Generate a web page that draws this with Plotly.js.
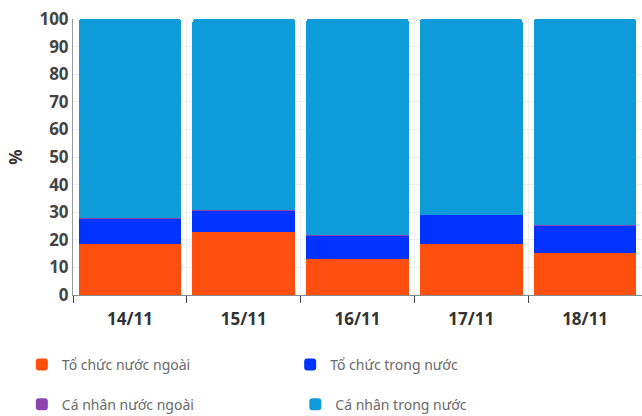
<!DOCTYPE html>
<html><head><meta charset="utf-8">
<script src="https://cdn.plot.ly/plotly-3.0.1.min.js"></script>
<style>body{margin:0}</style>
</head><body>
<div id="chart" style="width:642px;height:416px"></div>
<script>
const categories = ["14/11","15/11","16/11","17/11","18/11"];
const toChucNuocNgoai = [18.6, 22.7, 13.0, 18.6, 15.2];
const toChucTrongNuoc = [9.2, 7.8, 8.6, 10.4, 10.0];
const caNhanNuocNgoai = [0.2, 0.2, 0.1, 0.1, 0.1];
const caNhanTrongNuoc = [72.0, 69.3, 78.3, 70.9, 74.7];

const seriesNames = ["Tổ chức nước ngoài","Tổ chức trong nước","Cá nhân nước ngoài","Cá nhân trong nước"];
const colors = ["#FF4F0F","#0033FF","#8E44AD","#0E9BDA"];
const values = [toChucNuocNgoai, toChucTrongNuoc, caNhanNuocNgoai, caNhanTrongNuoc];
const legendIds = ["legend","legend2","legend3","legend4"];

const traces = values.map((v,i)=>({
  type:"bar", x:categories, y:v, name:seriesNames[i],
  marker:{color:colors[i], cornerradius:3, line:{width:0}},
  legend:legendIds[i], hoverinfo:"y+name"
}));

const legendFont = {family:"Noto Sans, sans-serif", size:14, color:"#6a6a6a"};
function leg(x,y){
  return {orientation:"h", xref:"container", yref:"container", x:x, y:y,
    xanchor:"left", yanchor:"middle", font:legendFont, bgcolor:"rgba(0,0,0,0)"};
}
const layout = {
  width:642, height:416,
  margin:{l:73, r:0, t:19, b:121},
  barmode:"stack", bargap:0.1,
  paper_bgcolor:"#fff", plot_bgcolor:"#fff",
  font:{family:"Noto Sans, sans-serif"},
  xaxis:{
    type:"category", tickson:"boundaries", ticks:"outside", ticklen:7, tickcolor:"#444",
    showline:true, linecolor:"#888", linewidth:1, showgrid:true, gridcolor:"#eeeeee",
    tickfont:{size:17, color:"#333", weight:"bold"}, ticklabelstandoff:9
  },
  yaxis:{
    range:[0,100], dtick:10, showline:true, linecolor:"#999", linewidth:1,
    gridcolor:"#eeeeee", zeroline:false, ticks:"",
    tickfont:{size:17, color:"#444", weight:"bold"},
    title:{text:"%", font:{size:17, color:"#333", weight:"bold"}, standoff:12}
  },
  legend:leg(0.034,0.123),
  legend2:leg(0.452,0.123),
  legend3:leg(0.034,0.027),
  legend4:leg(0.46,0.027),
  showlegend:true
};
Plotly.newPlot("chart", traces, layout, {displayModeBar:false});
</script>
</body></html>
